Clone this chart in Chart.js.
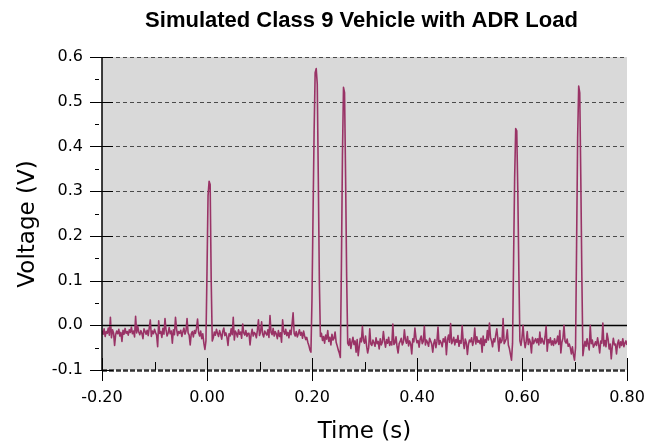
<!DOCTYPE html>
<html>
<head>
<meta charset="utf-8">
<script src="https://cdn.jsdelivr.net/npm/chart.js@4.4.1/dist/chart.umd.min.js"></script>
<style>
  html, body { margin: 0; padding: 0; background: #fff; }
  #wrap { width: 652px; height: 446px; }
</style>
</head>
<body>
<div id="wrap"><canvas id="chart-voltage" width="652" height="446"></canvas></div>
<script>
// sampled trace: one value every 2 ms from -0.20 s, in millivolts
var T_START = -0.2;
var T_STEP = 0.002;
var voltageMv = [
  -12,-20,-8,-25,-14,-18,-6,-22,18,-28,-10,-17,-45,-21,-13,-19,-9,-24,-16,-36,-11,-20,-7,-18,-14,
  -22,-10,-16,-4,-19,-13,-26,20,-17,-2,-15,-21,-12,-18,-30,-8,-14,-20,-11,-23,-6,12,-25,-13,-19,
  -9,-16,-22,-48,10,-18,-14,-27,-7,-20,15,-11,-24,-17,-5,-19,-13,-40,-10,-21,18,-8,-23,-14,-18,
  -11,-25,-15,-6,-20,-13,15,-17,-22,-44,-19,-14,-26,-12,-18,-7,14,-16,-24,-13,-30,-19,-40,-54,-35,
  120,290,322,315,100,-35,-28,-15,-22,-9,-18,-25,-12,-20,-31,-14,-6,-23,-17,-27,-45,-19,-24,-8,-21,
  18,-33,-13,-18,-26,-10,-20,-15,-29,3,-17,-22,-12,-25,-18,-18,-44,-21,-9,-24,-16,-19,-28,-11,12,
  -23,-15,8,-20,-26,-13,-18,-22,-10,-27,22,-16,-21,-7,-24,-14,-19,-30,-12,-25,-17,-38,12,-13,-20,
  -9,-23,-16,-28,-11,-21,2,28,-18,-24,-14,-26,-19,-10,-22,-16,-29,-13,-24,-32,-27,-38,-45,-55,-60,
  60,250,430,565,574,540,330,100,-25,-18,-34,-25,-40,-22,-31,-12,-36,-27,-44,-20,-33,-29,-15,-38,-46,
  -55,-62,-72,130,380,532,520,330,110,-40,-45,-30,-52,-38,-27,-43,-35,-60,-32,-68,-48,-29,-37,-2,-34,
  -40,-24,-46,-62,-50,-8,-42,-45,-33,-39,-47,-28,-41,-36,-53,-30,-44,-38,-14,-35,-49,-32,-40,-27,-45,
  -37,-44,3,-43,-39,-26,-48,-62,-41,-36,-29,-44,-38,-10,-33,-40,-25,-46,-35,-42,-64,-30,-37,-6,-28,
  -39,-34,-49,-31,-24,-41,-36,-2,-44,-33,-38,-47,-29,-35,-42,-60,-40,-32,-50,-36,-4,-43,-34,-39,-48,
  -30,-37,-26,-66,-33,-22,-38,4,-41,-35,-27,-44,-32,-38,-23,-47,-34,-40,-1,-36,-52,-31,-39,-65,-43,
  -33,-37,-28,-45,-35,-6,-42,-26,-38,-34,-41,-29,-60,-24,-45,-32,-38,-12,-33,5,-27,-35,-48,-30,-37,
  -22,-8,-31,-58,-28,-39,-34,15,-41,-36,-30,-10,-44,-52,-65,-78,-40,150,330,440,435,300,120,-35,-45,
  -28,0,-33,-50,-36,-14,-43,-31,-38,-62,-27,-41,-35,-30,-39,-30,-44,-15,-40,-29,-37,-42,-25,-2,-58,
  -32,-39,-28,-44,-35,-45,-30,-41,-37,-24,-43,-12,-62,-38,-29,0,-36,-40,-31,-47,-42,-50,-64,-48,-66,
  -78,-50,180,420,535,520,330,110,-68,-50,-36,-47,-30,-44,-55,0,-41,-33,-49,-44,-37,-45,-28,-43,-62,
  -35,-40,5,-46,-34,-48,-18,-31,-53,-42,-75,-47,-29,-44,-42,-64,-41,-33,-50,-37,-45,-30,-48,-40,-35,
  -44
];
var xTicks = [-0.2, 0, 0.2, 0.4, 0.6, 0.8];
var xMinorTicks = [-0.1, 0.1, 0.3, 0.5, 0.7];
var yTicks = [-0.1, 0, 0.1, 0.2, 0.3, 0.4, 0.5, 0.6];
var yMinorTicks = [-0.05, 0.05, 0.15, 0.25, 0.35, 0.45, 0.55];

var TITLE = "Simulated Class 9 Vehicle with ADR Load";
var X_TITLE = "Time (s)";
var Y_TITLE = "Voltage (V)";

(function () {
  "use strict";

  var TRACE = "#993366";
  var tickFont = { family: "'DejaVu Sans', sans-serif", size: 16 };

  var points = voltageMv.map(function (mv, i) {
    return { x: T_START + i * T_STEP, y: mv / 1000 };
  });

  function line(ctx, x1, y1, x2, y2) {
    ctx.beginPath();
    ctx.moveTo(x1, y1);
    ctx.lineTo(x2, y2);
    ctx.stroke();
  }

  var plotDecor = {
    id: "plotDecor",
    beforeDatasetsDraw: function (chart) {
      var ctx = chart.ctx, a = chart.chartArea, ys = chart.scales.y;
      ctx.save();
      ctx.fillStyle = "#d9d9d9";
      ctx.fillRect(a.left, a.top, a.right - a.left, a.bottom - a.top);
      yTicks.forEach(function (v) {
        var py = Math.round(ys.getPixelForValue(v)) + 0.5;
        if (v === 0) {
          ctx.setLineDash([]);
          ctx.strokeStyle = "#000";
          ctx.lineWidth = 1.5;
        } else if (v === yTicks[0]) {
          ctx.setLineDash([5, 2]);
          ctx.strokeStyle = "#333";
          ctx.lineWidth = 2.5;
        } else {
          ctx.setLineDash([4, 3]);
          ctx.strokeStyle = "#4a4a4a";
          ctx.lineWidth = 1.2;
        }
        line(ctx, a.left, py, a.right, py);
      });
      ctx.restore();
    },
    afterDatasetsDraw: function (chart) {
      var ctx = chart.ctx, a = chart.chartArea;
      var xs = chart.scales.x, ys = chart.scales.y;
      ctx.save();
      ctx.strokeStyle = "#000";
      ctx.setLineDash([]);
      // left axis line
      ctx.lineWidth = 1.5;
      line(ctx, a.left, a.top, a.left, a.bottom);
      ctx.lineWidth = 1;
      yTicks.forEach(function (v) {
        var py = Math.round(ys.getPixelForValue(v)) + 0.5;
        line(ctx, a.left - 12, py, a.left + 11, py);
      });
      yMinorTicks.forEach(function (v) {
        var py = Math.round(ys.getPixelForValue(v)) + 0.5;
        line(ctx, a.left - 7, py, a.left - 3, py);
      });
      xTicks.forEach(function (v) {
        var px = Math.round(xs.getPixelForValue(v)) + 0.5;
        line(ctx, px, a.bottom - 12, px, a.bottom + 11);
      });
      xMinorTicks.forEach(function (v) {
        var px = Math.round(xs.getPixelForValue(v)) + 0.5;
        line(ctx, px, a.bottom - 8, px, a.bottom);
      });

      // titles
      ctx.fillStyle = "#000";
      ctx.textAlign = "center";
      ctx.textBaseline = "alphabetic";
      ctx.font = "bold 22px 'Liberation Sans', Arial, sans-serif";
      ctx.fillText(TITLE, 361.5, 27);
      ctx.font = "23px 'DejaVu Sans', sans-serif";
      ctx.fillText(X_TITLE, (a.left + a.right) / 2, 438);
      ctx.translate(34, 224);
      ctx.rotate(-Math.PI / 2);
      ctx.fillText(Y_TITLE, 0, 0);
      ctx.restore();
    },
  };

  function boot() {
    var canvas = document.getElementById("chart-voltage");
    if (!canvas || typeof Chart === "undefined") return;
    new Chart(canvas.getContext("2d"), {
      type: "line",
      data: {
        datasets: [
          {
            label: "Voltage",
            data: points,
            borderColor: TRACE,
            borderWidth: 1.6,
            borderJoinStyle: "round",
            pointRadius: 0,
            tension: 0,
            fill: false,
          },
        ],
      },
      options: {
        responsive: false,
        devicePixelRatio: 1,
        animation: false,
        layout: { padding: { top: 57, right: 25, left: 0, bottom: 0 } },
        plugins: { legend: { display: false }, tooltip: { enabled: false } },
        scales: {
          x: {
            type: "linear",
            min: -0.2,
            max: 0.8,
            afterBuildTicks: function (s) { s.ticks = xTicks.map(function (v) { return { value: v }; }); },
            afterFit: function (s) { s.height = 76; s.paddingLeft = 0; s.paddingRight = 0; },
            grid: { display: false, drawTicks: false },
            border: { display: false },
            ticks: {
              color: "#000",
              font: tickFont,
              padding: 18,
              autoSkip: false,
              maxRotation: 0,
              callback: function (v) { return v.toFixed(2); },
            },
          },
          y: {
            min: -0.1,
            max: 0.6,
            afterBuildTicks: function (s) { s.ticks = yTicks.map(function (v) { return { value: v }; }); },
            afterFit: function (s) { s.width = 102; s.paddingTop = 0; s.paddingBottom = 0; },
            grid: { display: false, drawTicks: false },
            border: { display: false },
            ticks: {
              color: "#000",
              font: tickFont,
              padding: 19,
              autoSkip: false,
              callback: function (v) { return v.toFixed(1); },
            },
          },
        },
      },
      plugins: [plotDecor],
    });
  }

  if (document.readyState === "loading") {
    document.addEventListener("DOMContentLoaded", boot);
  } else {
    boot();
  }
})();
</script>
</body>
</html>
